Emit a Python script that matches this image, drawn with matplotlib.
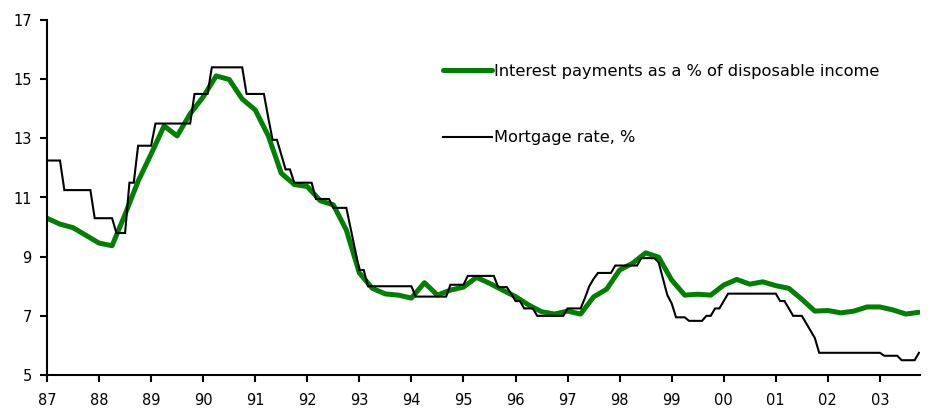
import numpy as np
import matplotlib
matplotlib.use("Agg")
import matplotlib.pyplot as plt

# Interest payments as % of disposable income, quarterly, 1987Q1 - 2003Q4
interest_pct = [
    10.30, 10.10, 9.98, 9.72,    # 87
    9.46, 9.37, 10.43, 11.55,    # 88
    12.47, 13.42, 13.08, 13.83,  # 89
    14.40, 15.11, 14.99, 14.33,  # 90
    13.96, 13.09, 11.82, 11.44,  # 91
    11.37, 10.89, 10.75, 9.90,   # 92
    8.45, 7.93, 7.74, 7.70,      # 93
    7.60, 8.12, 7.70, 7.87,      # 94
    7.97, 8.30, 8.10, 7.87,      # 95
    7.65, 7.37, 7.14, 7.06,      # 96
    7.16, 7.06, 7.64, 7.90,      # 97
    8.55, 8.78, 9.13, 8.98,      # 98
    8.21, 7.70, 7.73, 7.70,      # 99
    8.04, 8.23, 8.07, 8.15,      # 00
    8.02, 7.93, 7.56, 7.16,      # 01
    7.18, 7.10, 7.16, 7.30,      # 02
    7.30, 7.20, 7.06, 7.12,      # 03
]

# Mortgage rate, %, monthly, Jan 1987 - Oct 2003
mortgage_rate = [
    12.25, 12.25, 12.25, 12.25, 11.25, 11.25, 11.25, 11.25, 11.25, 11.25, 11.25, 10.30,  # 87
    10.30, 10.30, 10.30, 10.30, 9.80, 9.80, 9.80, 11.50, 11.50, 12.75, 12.75, 12.75,     # 88
    12.75, 13.50, 13.50, 13.50, 13.50, 13.50, 13.50, 13.50, 13.50, 13.50, 14.50, 14.50,  # 89
    14.50, 14.50, 15.40, 15.40, 15.40, 15.40, 15.40, 15.40, 15.40, 15.40, 14.50, 14.50,  # 90
    14.50, 14.50, 14.50, 13.70, 12.95, 12.95, 12.45, 11.95, 11.95, 11.50, 11.50, 11.50,  # 91
    11.50, 11.50, 10.95, 10.95, 10.95, 10.95, 10.65, 10.65, 10.65, 10.65, 9.95, 9.25,    # 92
    8.55, 8.55, 8.00, 8.00, 8.00, 8.00, 8.00, 8.00, 8.00, 8.00, 8.00, 8.00,              # 93
    8.00, 7.65, 7.65, 7.65, 7.65, 7.65, 7.65, 7.65, 7.65, 8.05, 8.05, 8.05,              # 94
    8.05, 8.35, 8.35, 8.35, 8.35, 8.35, 8.35, 8.35, 7.97, 7.97, 7.97, 7.75,              # 95
    7.50, 7.50, 7.25, 7.25, 7.25, 7.00, 7.00, 7.00, 7.00, 7.00, 7.00, 7.00,              # 96
    7.25, 7.25, 7.25, 7.25, 7.60, 8.00, 8.25, 8.45, 8.45, 8.45, 8.45, 8.70,              # 97
    8.70, 8.70, 8.70, 8.70, 8.70, 8.95, 8.95, 8.95, 8.95, 8.80, 8.25, 7.70,              # 98
    7.42, 6.95, 6.95, 6.95, 6.83, 6.83, 6.83, 6.83, 7.00, 7.00, 7.25, 7.25,              # 99
    7.50, 7.75, 7.75, 7.75, 7.75, 7.75, 7.75, 7.75, 7.75, 7.75, 7.75, 7.75,              # 00
    7.75, 7.50, 7.50, 7.25, 7.00, 7.00, 7.00, 6.75, 6.50, 6.25, 5.75, 5.75,              # 01
    5.75, 5.75, 5.75, 5.75, 5.75, 5.75, 5.75, 5.75, 5.75, 5.75, 5.75, 5.75,              # 02
    5.75, 5.65, 5.65, 5.65, 5.65, 5.50, 5.50, 5.50, 5.50, 5.75,                          # 03
]

year_labels = ["87", "88", "89", "90", "91", "92", "93", "94", "95",
               "96", "97", "98", "99", "00", "01", "02", "03"]
y_ticks = [5, 7, 9, 11, 13, 15, 17]

start_year = 87
x_quarterly = start_year + np.arange(len(interest_pct)) / 4.0
x_monthly = start_year + np.arange(len(mortgage_rate)) / 12.0

fig = plt.figure(figsize=(9.47, 4.18), dpi=100)
ax = fig.add_axes([47 / 947, 1 - 375 / 418, (920 - 47) / 947, (375 - 20) / 418])

ax.plot(x_quarterly, interest_pct, color="#008000", linewidth=3.6,
        solid_capstyle="round", solid_joinstyle="round",
        label="Interest payments as a % of disposable income")
ax.plot(x_monthly, mortgage_rate, color="black", linewidth=1.5,
        solid_joinstyle="miter", label="Mortgage rate, %")

ax.set_xlim(start_year, x_monthly[-1] + 0.02)
ax.set_ylim(5, 17)
ax.set_yticks(y_ticks)
ax.set_xticks(start_year + np.arange(len(year_labels)))
ax.set_xticklabels(year_labels)

for side in ["top", "right"]:
    ax.spines[side].set_visible(False)
for side in ["left", "bottom"]:
    ax.spines[side].set_linewidth(1.5)

ax.tick_params(axis="both", direction="out", length=5, width=1.5,
               labelsize=10.5, colors="black")
ax.tick_params(axis="x", pad=8)
ax.tick_params(axis="y", pad=6)

leg = ax.legend(loc="upper left", bbox_to_anchor=(443 / 947, 1 - 64 / 418),
                bbox_transform=fig.transFigure, frameon=False, fontsize=11.7,
                handlelength=3.0, handletextpad=0.15, labelspacing=3.15,
                borderpad=0, borderaxespad=0)

fig.savefig("out.png", dpi=100)
